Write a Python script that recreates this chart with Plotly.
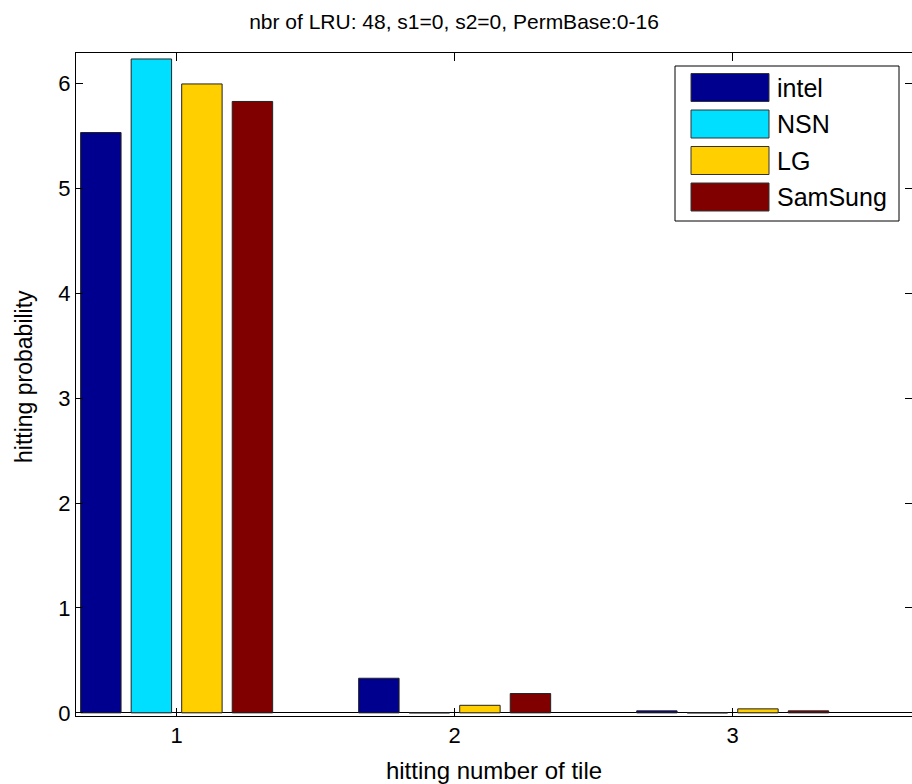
import plotly.graph_objects as go

# Hitting probability per tile for each vendor
tiles = [1, 2, 3]
series_names = ["intel", "NSN", "LG", "SamSung"]
intel = [5.533, 0.330, 0.019]
nsn = [6.234, 0.0, 0.0]
lg = [5.996, 0.072, 0.038]
samsung = [5.829, 0.184, 0.019]
series_values = [intel, nsn, lg, samsung]
series_colors = ["#00008f", "#00dfff", "#ffcf00", "#800000"]
y_ticks = [0, 1, 2, 3, 4, 5, 6]

W, H = 912, 784
M_L, M_R, M_T, M_B = 76, 0, 53, 68
FONT = "Liberation Sans, Arial, Helvetica, sans-serif"
FS_TITLE = 21
FS_TICK = 22
FS_XLABEL = 24
FS_YLABEL = 23
FS_LEGEND = 25

fig = go.Figure()
for name, vals, col in zip(series_names, series_values, series_colors):
    fig.add_trace(go.Bar(
        x=tiles, y=vals, name=name,
        marker=dict(color=col, line=dict(color="#222222", width=1)),
        showlegend=False,
    ))

# pixel -> paper helpers for the legend box and y label
pw = W - M_L - M_R
ph = H - M_T - M_B
def px(x):
    return (x - M_L) / pw
def py(y):
    return (H - M_B - y) / ph

shapes = []
annotations = []
# legend frame
shapes.append(dict(type="rect", xref="paper", yref="paper",
                   x0=px(675), x1=px(899), y0=py(221), y1=py(66),
                   line=dict(color="black", width=1), fillcolor="white", layer="above"))
for i, (name, col) in enumerate(zip(series_names, series_colors)):
    top = 73.5 + i * 36.5
    shapes.append(dict(type="rect", xref="paper", yref="paper",
                       x0=px(691), x1=px(769), y0=py(top + 28), y1=py(top),
                       line=dict(color="#333333", width=1), fillcolor=col, layer="above"))
    annotations.append(dict(xref="paper", yref="paper", x=px(775), y=py(top + 14),
                            text=name, showarrow=False, xanchor="left", yanchor="middle",
                            font=dict(family=FONT, size=FS_LEGEND, color="black")))

# y axis label
annotations.append(dict(xref="paper", yref="paper", x=px(24), y=py(377),
                        text="hitting probability", textangle=-90, showarrow=False,
                        xanchor="center", yanchor="middle",
                        font=dict(family=FONT, size=FS_YLABEL, color="black")))

fig.update_layout(
    width=W, height=H,
    margin=dict(l=M_L, r=M_R, t=M_T, b=M_B, pad=0),
    paper_bgcolor="white", plot_bgcolor="white",
    barmode="group", bargap=0.273, bargroupgap=0.2,
    font=dict(family=FONT, size=FS_TICK, color="black"),
    title=dict(text="nbr of LRU: 48, s1=0, s2=0, PermBase:0-16",
               x=454 / W, xref="container", xanchor="center",
               y=1 - 22 / H, yref="container", yanchor="middle",
               font=dict(family=FONT, size=FS_TITLE, color="black")),
    shapes=shapes,
    annotations=annotations,
    xaxis=dict(range=[0.638, 3.645], tickvals=tiles, ticktext=[str(t) for t in tiles],
               ticks="inside", ticklen=8, tickcolor="black", tickwidth=1,
               showline=True, linecolor="black", linewidth=1, mirror="ticks",
               showgrid=False, zeroline=False,
               tickfont=dict(family=FONT, size=FS_TICK),
               title=dict(text="hitting number of tile", standoff=14,
                          font=dict(family=FONT, size=FS_XLABEL))),
    yaxis=dict(range=[-0.03, 6.291], tickvals=y_ticks,
               ticks="inside", ticklen=7, tickcolor="black", tickwidth=1,
               showline=True, linecolor="black", linewidth=1, mirror="ticks",
               showgrid=False, zeroline=True, zerolinecolor="black", zerolinewidth=1,
               tickfont=dict(family=FONT, size=FS_TICK)),
)

fig.write_html("out.html")
